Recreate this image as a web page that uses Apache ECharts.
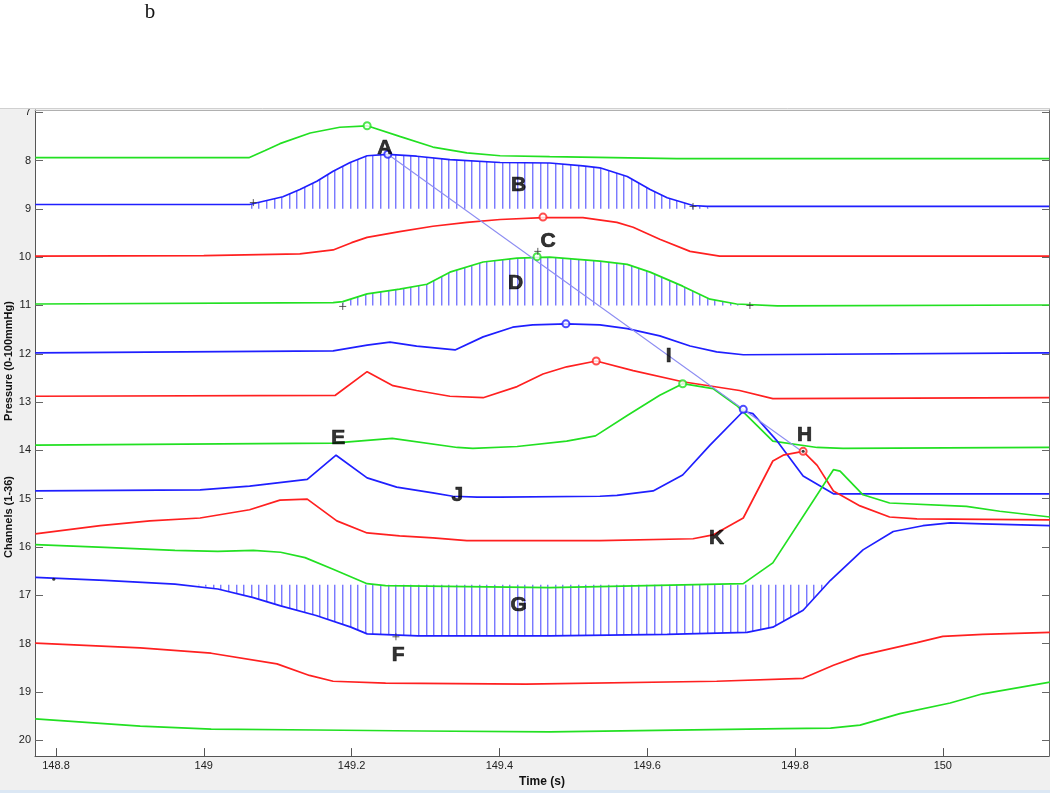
<!DOCTYPE html>
<html><head><meta charset="utf-8">
<script src="https://cdn.jsdelivr.net/npm/echarts@6/dist/echarts.min.js"></script>
<style>html,body{margin:0;padding:0;background:#fff}#c{width:1050px;height:793px}</style>
</head><body><div id="c"></div>
<script>
// ---- tick labels ----
const xTicks = [148.8, 149, 149.2, 149.4, 149.6, 149.8, 150];
const yTicks = [7, 8, 9, 10, 11, 12, 13, 14, 15, 16, 17, 18, 19, 20];

// ---- traces: [time (s), channel offset value] ----
const ch1 = [[148.772,7.94],[149.061,7.94],[149.083,7.79],[149.103,7.65],[149.144,7.43],[149.184,7.31],[149.221,7.28],[149.265,7.50],[149.310,7.72],[149.356,7.84],[149.401,7.90],[149.468,7.92],[149.640,7.96],[150.144,7.96]];
const ch2 = [[148.772,8.91],[149.062,8.91],[149.107,8.75],[149.130,8.60],[149.153,8.43],[149.175,8.22],[149.198,8.04],[149.221,7.90],[149.249,7.87],[149.288,7.91],[149.333,7.98],[149.401,8.04],[149.468,8.05],[149.513,8.11],[149.536,8.15],[149.573,8.33],[149.604,8.60],[149.627,8.77],[149.662,8.93],[149.681,8.95],[150.144,8.95]];
const ch3 = [[148.772,9.98],[149.000,9.97],[149.130,9.93],[149.175,9.85],[149.200,9.70],[149.221,9.59],[149.265,9.47],[149.310,9.36],[149.356,9.28],[149.401,9.22],[149.459,9.18],[149.513,9.18],[149.559,9.28],[149.581,9.38],[149.617,9.63],[149.658,9.88],[149.698,9.98],[150.144,9.98]];
const ch4 = [[148.772,10.97],[149.175,10.94],[149.188,10.92],[149.221,10.76],[149.265,10.66],[149.302,10.56],[149.333,10.31],[149.378,10.10],[149.424,10.02],[149.468,10.00],[149.536,10.08],[149.573,10.15],[149.604,10.31],[149.648,10.60],[149.685,10.87],[149.721,10.97],[149.776,11.01],[150.144,10.99]];
const ch5 = [[148.772,11.98],[149.175,11.94],[149.221,11.82],[149.252,11.76],[149.288,11.84],[149.340,11.92],[149.378,11.65],[149.418,11.45],[149.445,11.40],[149.491,11.38],[149.536,11.40],[149.573,11.48],[149.617,11.63],[149.658,11.84],[149.694,11.96],[149.730,12.02],[150.144,11.98]];
const ch6 = [[148.772,12.88],[149.178,12.86],[149.221,12.37],[149.256,12.66],[149.288,12.76],[149.333,12.88],[149.378,12.91],[149.424,12.68],[149.459,12.42],[149.491,12.27],[149.531,12.15],[149.581,12.35],[149.648,12.58],[149.725,12.76],[149.770,12.93],[150.144,12.91]];
const ch7 = [[148.772,13.89],[149.175,13.85],[149.255,13.75],[149.343,13.94],[149.364,13.96],[149.424,13.92],[149.491,13.81],[149.530,13.70],[149.573,13.28],[149.617,12.86],[149.648,12.62],[149.689,12.72],[149.721,13.07],[149.770,13.81],[149.830,13.94],[149.865,13.96],[150.144,13.94]];
const ch8 = [[148.772,14.84],[148.995,14.82],[149.062,14.74],[149.140,14.60],[149.179,14.10],[149.221,14.57],[149.261,14.76],[149.310,14.88],[149.337,14.95],[149.370,14.97],[149.401,14.97],[149.536,14.95],[149.559,14.93],[149.608,14.84],[149.648,14.51],[149.685,13.89],[149.730,13.19],[149.743,13.24],[149.776,13.81],[149.811,14.53],[149.852,14.90],[150.144,14.90]];
const ch9 = [[148.772,15.73],[148.860,15.56],[148.927,15.46],[148.995,15.40],[149.062,15.23],[149.103,15.03],[149.140,15.01],[149.180,15.46],[149.221,15.71],[149.265,15.77],[149.310,15.81],[149.356,15.87],[149.536,15.87],[149.662,15.83],[149.689,15.75],[149.730,15.40],[149.770,14.22],[149.784,14.10],[149.811,14.02],[149.830,14.31],[149.852,14.84],[149.888,15.15],[149.928,15.38],[149.965,15.42],[150.145,15.44]];
const ch10 = [[148.772,15.95],[148.866,16.01],[148.961,16.07],[149.019,16.09],[149.067,16.07],[149.104,16.11],[149.137,16.22],[149.175,16.46],[149.221,16.76],[149.246,16.80],[149.468,16.84],[149.730,16.76],[149.770,16.33],[149.852,14.40],[149.861,14.43],[149.892,14.92],[149.928,15.09],[150.032,15.16],[150.077,15.26],[150.145,15.38]];
const ch11 = [[148.772,16.63],[148.866,16.69],[148.961,16.77],[149.019,16.87],[149.067,17.05],[149.104,17.22],[149.152,17.42],[149.199,17.66],[149.221,17.80],[149.290,17.84],[149.468,17.84],[149.627,17.81],[149.735,17.77],[149.770,17.66],[149.811,17.31],[149.848,16.69],[149.892,16.06],[149.933,15.68],[149.973,15.56],[150.010,15.50],[150.054,15.52],[150.145,15.56]];
const ch12 = [[148.772,17.99],[148.914,18.09],[149.010,18.20],[149.099,18.42],[149.143,18.66],[149.175,18.78],[149.246,18.82],[149.436,18.84],[149.694,18.78],[149.811,18.72],[149.852,18.45],[149.888,18.25],[149.965,17.98],[150.000,17.85],[150.054,17.81],[150.145,17.77]];
const ch13 = [[148.772,19.56],[148.914,19.71],[149.010,19.77],[149.152,19.79],[149.294,19.81],[149.468,19.83],[149.784,19.76],[149.848,19.75],[149.888,19.69],[149.942,19.45],[150.010,19.23],[150.054,19.04],[150.145,18.80]];

// ---- peak markers ----
const peakCircles = [
  {value:[149.221,7.28], c:'g'}, {value:[149.249,7.87], c:'b'}, {value:[149.459,9.17], c:'r'},
  {value:[149.451,9.99], c:'g'}, {value:[149.490,11.38], c:'b'}, {value:[149.531,12.15], c:'r'},
  {value:[149.648,12.62], c:'g'}, {value:[149.730,13.15], c:'b'}, {value:[149.811,14.02], c:'r'}
];
const plusMarks = [[149.067,8.87],[149.662,8.95],[149.188,11.02],[149.739,11.00],[149.452,9.88],[149.260,17.86]];
const dotMarks = [[149.811,14.02],[148.797,16.67]];
// fitted propagation line (A to H)
const propLine = [[149.249,7.87],[149.811,14.04]];
// hatched areas: trace, start, end, reference level
const hatchB = {trace: ch2, t0: 149.062, t1: 149.684, base: 9.0};
const hatchD = {trace: ch4, t0: 149.188, t1: 149.728, base: 11.0};
const hatchG = {trace: ch11, t0: 148.989, t1: 149.843, base: 16.78};
// annotation letters
const letters = [
  ['A',149.245,7.74],['B',149.426,8.50],['C',149.466,9.67],['D',149.422,10.54],
  ['E',149.182,13.75],['F',149.263,18.24],['G',149.426,17.21],['H',149.813,13.69],
  ['I',149.629,12.06],['J',149.343,14.92],['K',149.694,15.81]
];

const COL = {g:'#22e022', b:'#1f1fff', r:'#ff2020'};
const traces = [[ch1,'g'],[ch2,'b'],[ch3,'r'],[ch4,'g'],[ch5,'b'],[ch6,'r'],[ch7,'g'],[ch8,'b'],[ch9,'r'],[ch10,'g'],[ch11,'b'],[ch12,'r'],[ch13,'g']];

// hatch pattern
const pc = document.createElement('canvas');
pc.width = 38; pc.height = 4;
const pctx = pc.getContext('2d');
[0, 8, 15, 23, 30].forEach(x => {
  pctx.fillStyle = '#7a7aff'; pctx.fillRect(x, 0, 1, 4);
  pctx.fillStyle = '#c4c4ff'; pctx.fillRect(x + 1, 0, 1, 4);
});
const pattern = {image: pc, repeat: 'repeat'};

const hatches = [hatchB, hatchD, hatchG];

const series = [];
series.push({
  type: 'custom', z: 1, silent: true,
  data: hatches.map((h, i) => i),
  renderItem: function (params, api) {
    const h = hatches[params.dataIndex];
    const pts = [api.coord([h.t0, h.base])];
    h.trace.forEach(p => { if (p[0] >= h.t0 && p[0] <= h.t1) pts.push(api.coord(p)); });
    pts.push(api.coord([h.t1, h.base]));
    return {type: 'polygon', shape: {points: pts}, style: {fill: pattern, stroke: null}};
  }
});
traces.forEach((t, i) => {
  series.push({
    type: 'line', data: t[0], showSymbol: false, z: 3,
    lineStyle: {color: COL[t[1]], width: 1.7}, itemStyle: {color: COL[t[1]]}
  });
});
series.push({
  type: 'line', data: propLine, showSymbol: false, z: 4,
  lineStyle: {color: '#8d8df2', width: 1.1}
});
series.push({
  type: 'scatter', z: 5, symbol: 'emptyCircle', symbolSize: 7,
  data: peakCircles.map(p => ({value: p.value, itemStyle: {color: COL[p.c], borderColor: COL[p.c], borderWidth: 1}}))
});
series.push({
  type: 'scatter', z: 5, symbol: 'path://M5,0L5,10M0,5L10,5', symbolSize: 7,
  itemStyle: {color: 'transparent', borderColor: '#333', borderWidth: 1},
  data: plusMarks
});
series.push({
  type: 'scatter', z: 6, symbol: 'circle', symbolSize: 3,
  itemStyle: {color: '#111'}, data: dotMarks
});
series.push({
  type: 'scatter', z: 7, symbol: 'circle', symbolSize: 1,
  itemStyle: {color: 'transparent'},
  label: {show: true, position: 'inside', formatter: '{b}', color: '#000',
          textBorderColor: '#000', textBorderWidth: 0.7,
          fontSize: 21, fontWeight: 'bold', fontFamily: 'Liberation Sans, Arial, sans-serif'},
  data: letters.map(l => ({name: l[0], value: [l[1], l[2]]}))
});

const XMIN = 148.7716, XMAX = 150.1437, YMIN = 6.953, YMAX = 20.33;
const fontF = 'Liberation Sans, Arial, sans-serif';

const chart = echarts.init(document.getElementById('c'), null, {renderer: 'canvas'});
chart.setOption({
  backgroundColor: '#f0f0f0',
  animation: false,
  grid: {left: 35, right: 1, top: 110, bottom: 34, show: true, backgroundColor: '#ffffff', borderWidth: 0, containLabel: false},
  xAxis: [{
    type: 'value', min: XMIN, max: XMAX, position: 'bottom',
    axisLine: {show: true, lineStyle: {color: '#555', width: 1}},
    axisTick: {show: true, inside: true, length: 8, customValues: xTicks, lineStyle: {color: '#555'}},
    axisLabel: {customValues: xTicks, fontSize: 11, color: '#222', margin: 4, fontFamily: fontF,
                formatter: v => String(Math.round(v * 10) / 10)},
    splitLine: {show: false},
    name: 'Time (s)', nameLocation: 'middle', nameGap: 19,
    nameTextStyle: {fontSize: 12, fontWeight: 'bold', color: '#111', fontFamily: fontF}
  }, {
    type: 'value', min: XMIN, max: XMAX, position: 'top',
    axisLine: {show: true, lineStyle: {color: '#b0b0b0', width: 1}},
    axisTick: {show: false}, axisLabel: {show: false}, splitLine: {show: false}
  }],
  yAxis: [{
    type: 'value', inverse: true, min: YMIN, max: YMAX, position: 'left',
    axisLine: {show: true, lineStyle: {color: '#555', width: 1}},
    axisTick: {show: true, inside: true, length: 8, customValues: yTicks, lineStyle: {color: '#666'}},
    axisLabel: {customValues: yTicks, fontSize: 11, color: '#222', margin: 4, fontFamily: fontF},
    splitLine: {show: false}
  }, {
    type: 'value', inverse: true, min: YMIN, max: YMAX, position: 'right',
    axisLine: {show: true, lineStyle: {color: '#666', width: 1}},
    axisTick: {show: true, inside: true, length: 7, customValues: yTicks, lineStyle: {color: '#666'}},
    axisLabel: {show: false}, splitLine: {show: false}
  }],
  graphic: [
    {type: 'rect', z: 100, shape: {x: 0, y: 0, width: 1050, height: 108}, style: {fill: '#ffffff'}},
    {type: 'line', z: 100, shape: {x1: 0, y1: 108.5, x2: 1050, y2: 108.5}, style: {stroke: '#d0d0d0', lineWidth: 1}},
    {type: 'rect', z: 100, shape: {x: 0, y: 790, width: 1050, height: 3}, style: {fill: '#dbe7f4'}},
    {type: 'text', z: 101, x: 150, y: 12, style: {text: 'b', fontSize: 21, fontFamily: 'Liberation Serif, Times New Roman, serif', fill: '#111', align: 'center', verticalAlign: 'middle'}},
    {type: 'text', z: 101, x: 9, y: 361, rotation: Math.PI / 2, style: {text: 'Pressure (0-100mmHg)', fontSize: 11, fontWeight: 'bold', fontFamily: fontF, fill: '#111', align: 'center', verticalAlign: 'middle'}},
    {type: 'text', z: 101, x: 9, y: 517, rotation: Math.PI / 2, style: {text: 'Channels (1-36)', fontSize: 11, fontWeight: 'bold', fontFamily: fontF, fill: '#111', align: 'center', verticalAlign: 'middle'}}
  ],
  series: series.map((s, i) => Object.assign({xAxisIndex: 0, yAxisIndex: 0}, s))
});
</script>
</body></html>
